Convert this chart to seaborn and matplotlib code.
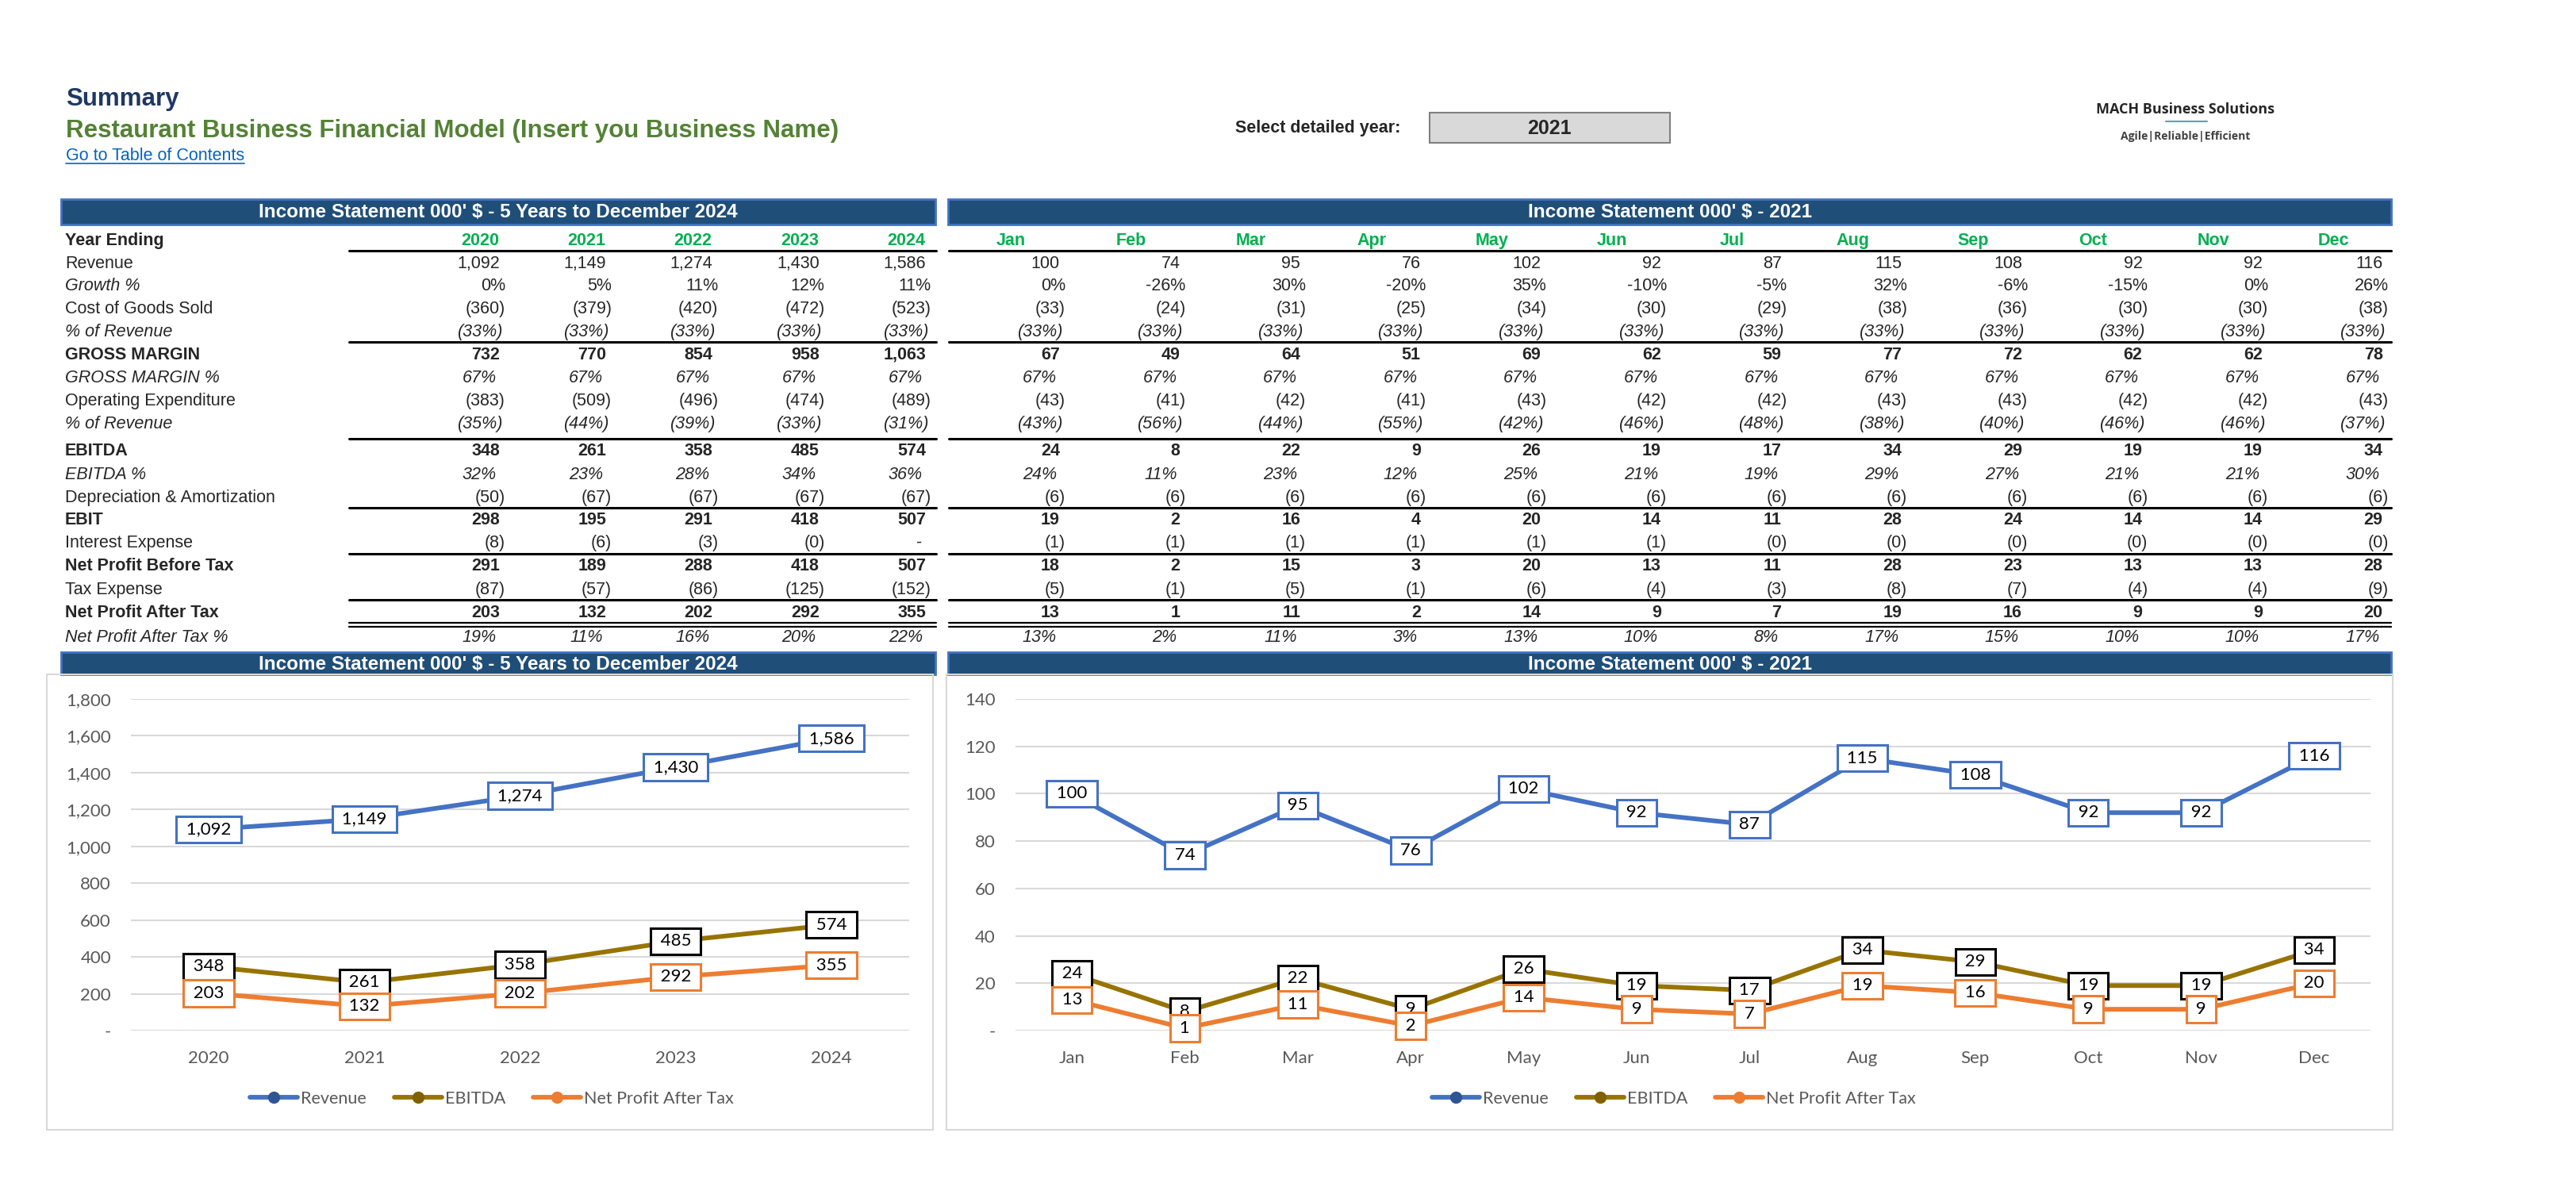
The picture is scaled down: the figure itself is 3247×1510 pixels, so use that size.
import numpy as np
import pandas as pd
import matplotlib
matplotlib.use('Agg')
import matplotlib.pyplot as plt
from matplotlib.patches import Rectangle
from matplotlib.lines import Line2D
import seaborn as sns

W, H = 3248, 1510

# ---- yearly data (000' $)
years = [2020, 2021, 2022, 2023, 2024]
revenue = [1092, 1149, 1274, 1430, 1586]
growth = [0, 5, 11, 12, 11]
cogs = [-360, -379, -420, -472, -523]
cogs_pct = [-33, -33, -33, -33, -33]
gross = [732, 770, 854, 958, 1063]
gm_pct = [67, 67, 67, 67, 67]
opex = [-383, -509, -496, -474, -489]
opex_pct = [-35, -44, -39, -33, -31]
ebitda = [348, 261, 358, 485, 574]
ebitda_pct = [32, 23, 28, 34, 36]
da = [-50, -67, -67, -67, -67]
ebit = [298, 195, 291, 418, 507]
interest = [-8, -6, -3, -0.3, 0]
npbt = [291, 189, 288, 418, 507]
tax = [-87, -57, -86, -125, -152]
npat = [203, 132, 202, 292, 355]
npat_pct = [19, 11, 16, 20, 22]

# ---- monthly data 2021
months = ['Jan', 'Feb', 'Mar', 'Apr', 'May', 'Jun', 'Jul', 'Aug', 'Sep', 'Oct', 'Nov', 'Dec']
m_revenue = [100, 74, 95, 76, 102, 92, 87, 115, 108, 92, 92, 116]
m_growth = [0, -26, 30, -20, 35, -10, -5, 32, -6, -15, 0, 26]
m_cogs = [-33, -24, -31, -25, -34, -30, -29, -38, -36, -30, -30, -38]
m_cogs_pct = [-33] * 12
m_gross = [67, 49, 64, 51, 69, 62, 59, 77, 72, 62, 62, 78]
m_gm_pct = [67] * 12
m_opex = [-43, -41, -42, -41, -43, -42, -42, -43, -43, -42, -42, -43]
m_opex_pct = [-43, -56, -44, -55, -42, -46, -48, -38, -40, -46, -46, -37]
m_ebitda = [24, 8, 22, 9, 26, 19, 17, 34, 29, 19, 19, 34]
m_ebitda_pct = [24, 11, 23, 12, 25, 21, 19, 29, 27, 21, 21, 30]
m_da = [-6] * 12
m_ebit = [19, 2, 16, 4, 20, 14, 11, 28, 24, 14, 14, 29]
m_interest = [-1, -1, -1, -1, -1, -1, -0.4, -0.4, -0.4, -0.4, -0.4, -0.4]
m_npbt = [18, 2, 15, 3, 20, 13, 11, 28, 23, 13, 13, 28]
m_tax = [-5, -1, -5, -1, -6, -4, -3, -8, -7, -4, -4, -9]
m_npat = [13, 1, 11, 2, 14, 9, 7, 19, 16, 9, 9, 20]
m_npat_pct = [13, 2, 11, 3, 13, 10, 8, 17, 15, 10, 10, 17]

series_names = ['Revenue', 'EBITDA', 'Net Profit After Tax']
colors = {'Revenue': '#4472C4', 'EBITDA': '#977400', 'Net Profit After Tax': '#ED7D31'}
label_edge = {'Revenue': '#4472C4', 'EBITDA': '#000000', 'Net Profit After Tax': '#ED7D31'}
marker_col = {'Revenue': '#2F5597', 'EBITDA': '#806000', 'Net Profit After Tax': '#ED7D31'}

sns.set_style('white')
plt.rcParams['font.family'] = ['Liberation Sans', 'DejaVu Sans']
CHART_FONT = ['Lato', 'DejaVu Sans']
TFS = 15.5  # table font size

fig = plt.figure(figsize=(W / 100, H / 100), dpi=100)


def fx(x):
    return x / W


def fy(y):
    return 1 - y / H


def put(x, y, s, **kw):
    return fig.text(fx(x), fy(y), s, **kw)


def band(x0, x1, y0, y1, title):
    fig.add_artist(Rectangle((fx(x0), fy(y1)), (x1 - x0) / W, (y1 - y0) / H,
                             transform=fig.transFigure, fc='#1F4E79', ec='#4472C4', lw=2))
    put((x0 + x1) / 2, (y0 + y1) / 2 + 1, title, ha='center', va='center',
        color='white', fontsize=17.5, fontweight='bold')


# ---- header
put(83, 133, 'Summary', fontsize=22.5, fontweight='bold', color='#1F3864', va='baseline')
put(83, 173, 'Restaurant Business Financial Model (Insert you Business Name)',
    fontsize=22.5, fontweight='bold', color='#548235', va='baseline')
toc = put(83, 202, 'Go to Table of Contents', fontsize=15.5, color='#0563C1', va='baseline')
fig.canvas.draw()
bb = toc.get_window_extent()
fig.add_artist(Line2D([fx(83), fx(83) + bb.width / W], [fy(206), fy(206)],
                      transform=fig.transFigure, color='#0563C1', lw=1.2))

put(1557, 162, 'Select detailed year:', fontsize=15.5, fontweight='bold', va='center')
fig.add_artist(Rectangle((fx(1802), fy(180)), (2105 - 1802) / W, (180 - 142) / H,
                         transform=fig.transFigure, fc='#D9D9D9', ec='#808080', lw=1.5))
put(1953, 162, '2021', fontsize=18, fontweight='bold', ha='center', va='center')

put(2755, 138, 'MACH Business Solutions', fontsize=13, fontweight='bold', ha='center',
    va='center', color='#262626', family=['Open Sans', 'DejaVu Sans'])
fig.add_artist(Line2D([fx(2730), fx(2782)], [fy(153), fy(153)], transform=fig.transFigure,
                      color='#5BA3A8', lw=1.5))
put(2755, 172, 'Agile|Reliable|Efficient', fontsize=10, fontweight='bold', ha='center',
    va='center', color='#404040', family=['Open Sans', 'DejaVu Sans'])

# ---- tables
band(77, 1179, 251, 283, "Income Statement 000' $ - 5 Years to December 2024")
band(1195, 3014, 251, 283, "Income Statement 000' $ - 2021")

rows = [
    ('Revenue', 'normal', 'num', revenue, m_revenue),
    ('Growth %', 'italic', 'growth', growth, m_growth),
    ('Cost of Goods Sold', 'normal', 'num', cogs, m_cogs),
    ('% of Revenue', 'italic', 'ipct', cogs_pct, m_cogs_pct),
    ('GROSS MARGIN', 'bold', 'num', gross, m_gross),
    ('GROSS MARGIN %', 'italic', 'ipct', gm_pct, m_gm_pct),
    ('Operating Expenditure', 'normal', 'num', opex, m_opex),
    ('% of Revenue', 'italic', 'ipct', opex_pct, m_opex_pct),
    ('EBITDA', 'bold', 'num', ebitda, m_ebitda),
    ('EBITDA %', 'italic', 'ipct', ebitda_pct, m_ebitda_pct),
    ('Depreciation & Amortization', 'normal', 'num', da, m_da),
    ('EBIT', 'bold', 'num', ebit, m_ebit),
    ('Interest Expense', 'normal', 'num', interest, m_interest),
    ('Net Profit Before Tax', 'bold', 'num', npbt, m_npbt),
    ('Tax Expense', 'normal', 'num', tax, m_tax),
    ('Net Profit After Tax', 'bold', 'num', npat, m_npat),
    ('Net Profit After Tax %', 'italic', 'ipct', npat_pct, m_npat_pct),
]
row_y = [331, 359, 388, 417, 446, 475, 504, 533, 567, 597, 626, 654, 683, 712, 742, 771, 802]


def fmt(v, kind):
    """text and shift (px) relative to the paren column"""
    if kind == 'num':
        if v == 0:
            return '-', -12
        if v < 0:
            return f'({abs(round(v)):,})', 0
        return f'{round(v):,}', -7
    if kind == 'growth':
        return f'{v}%', 0
    if v < 0:
        return f'({abs(v)}%)', -3
    return f'{v}%', -11


left_cols = [637 + 134.25 * i for i in range(5)]
right_cols = [1343 + 151.6 * i for i in range(12)]

put(82, 309, 'Year Ending', fontsize=TFS, fontweight='bold', va='baseline')
for x, yr in zip(left_cols, years):
    put(x - 8, 309, str(yr), fontsize=TFS, fontweight='bold', color='#00B050', ha='right', va='baseline')
for x, mo in zip(right_cols, months):
    put(x - 69, 309, mo, fontsize=TFS, fontweight='bold', color='#00B050', ha='center', va='baseline')

for (label, style, kind, yv, mv), y in zip(rows, row_y):
    weight = 'bold' if style == 'bold' else 'normal'
    lab_style = 'italic' if style == 'italic' else 'normal'
    put(82, y + 7, label, fontsize=TFS, fontweight=weight, fontstyle=lab_style, va='baseline')
    val_style = 'italic' if kind == 'ipct' else 'normal'
    for cols, vals in ((left_cols, yv), (right_cols, mv)):
        for x, v in zip(cols, vals):
            s, dx = fmt(v, kind)
            put(x + dx, y + 7, s, fontsize=TFS, fontweight=weight, fontstyle=val_style,
                ha='right', va='baseline')

for x0, x1 in ((440, 1180), (1196, 3014)):
    for y in (316, 431, 553, 640, 698, 756):
        fig.add_artist(Line2D([fx(x0), fx(x1)], [fy(y), fy(y)], transform=fig.transFigure,
                              color='black', lw=2.2))
    for y in (785, 789.5):
        fig.add_artist(Line2D([fx(x0), fx(x1)], [fy(y), fy(y)], transform=fig.transFigure,
                              color='black', lw=1.6))

# ---- charts
band(77, 1179, 822, 850, "Income Statement 000' $ - 5 Years to December 2024")
band(1195, 3014, 822, 850, "Income Statement 000' $ - 2021")
for x0, x1 in ((59, 1176), (1193, 3016)):
    fig.add_artist(Rectangle((fx(x0), fy(1424)), (x1 - x0) / W, (1424 - 850) / H,
                             transform=fig.transFigure, fill=False, ec='#D9D9D9', lw=1.5))

df_year = pd.DataFrame({
    'x': years * 3,
    'value': revenue + ebitda + npat,
    'series': [n for n in series_names for _ in years],
})
df_month = pd.DataFrame({
    'x': months * 3,
    'value': m_revenue + m_ebitda + m_npat,
    'series': [n for n in series_names for _ in months],
})

chart_specs = [
    (df_year, (165, 1146), 1800, 200, (2019.5, 2024.5), 620),
    (df_month, (1280, 2988), 140, 20, (-0.5, 11.5), 2110),
]

for df, (ax0, ax1), ymax, ystep, xlim, leg_x in chart_specs:
    ax = fig.add_axes([fx(ax0), fy(1299), (ax1 - ax0) / W, (1299 - 881) / H])
    sns.lineplot(data=df, x='x', y='value', hue='series', hue_order=series_names,
                 palette=colors, linewidth=4.2, legend=False, sort=False, ax=ax)
    for k, name in enumerate(series_names):
        sub = df[df['series'] == name]
        for xv, v in zip(sub['x'], sub['value']):
            ax.text(xv, v, f' {v:,} ', ha='center', va='center', fontsize=16,
                    family=CHART_FONT, color='#000000', zorder=5 + k,
                    bbox=dict(boxstyle='square,pad=0.3', fc='white',
                              ec=label_edge[name], lw=2.2))
    ax.set_xlim(*xlim)
    ax.set_ylim(0, ymax)
    ticks = list(range(0, ymax + 1, ystep))
    ax.set_yticks(ticks)
    ax.set_yticklabels(['-' if t == 0 else f'{t:,}' for t in ticks])
    if df is df_year:
        ax.set_xticks(years)
        ax.set_xticklabels([str(y) for y in years])
    ax.set_xlabel('')
    ax.set_ylabel('')
    ax.yaxis.grid(True, color='#D9D9D9', lw=1.5)
    ax.xaxis.grid(False)
    ax.set_axisbelow(True)
    sns.despine(ax=ax, left=True, bottom=True)
    ax.tick_params(length=0, pad=18, labelsize=16, labelcolor='#595959')
    for lbl in ax.get_xticklabels() + ax.get_yticklabels():
        lbl.set_fontfamily(CHART_FONT)
    handles = [Line2D([0], [0], color=colors[n], lw=4.2, marker='o', markersize=10,
                      markerfacecolor=marker_col[n], markeredgecolor=marker_col[n])
               for n in series_names]
    ax.legend(handles, series_names, loc='center', bbox_to_anchor=(fx(leg_x), fy(1385)),
              bbox_transform=fig.transFigure, ncol=3, frameon=False,
              prop={'family': CHART_FONT, 'size': 15.5}, labelcolor='#595959',
              handlelength=2.8, handletextpad=0.2, columnspacing=1.6)

fig.savefig('out.png', dpi=100, facecolor='white')
